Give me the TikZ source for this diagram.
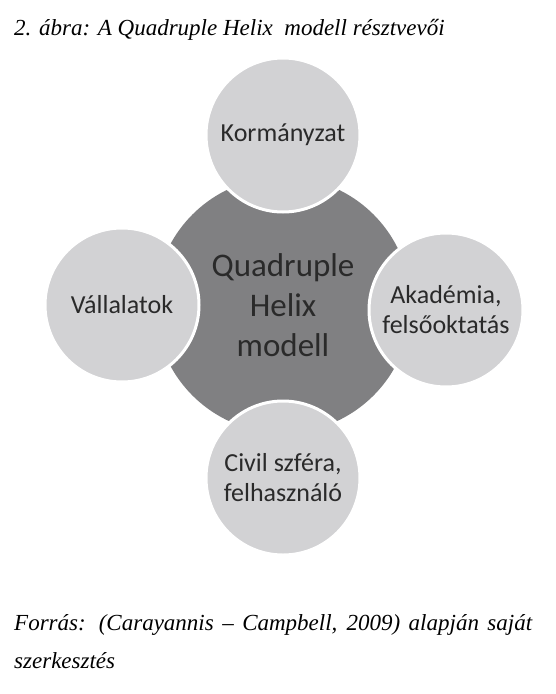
\documentclass[tikz,border=0pt]{standalone}
\usepackage{fontspec}
\setmainfont{Liberation Serif}
\setsansfont{Carlito}
\definecolor{coregray}{HTML}{808082}
\definecolor{actorgray}{HTML}{D2D2D4}
\definecolor{inkgray}{HTML}{2A2A2A}
\tikzset{
  core/.style={circle, fill=coregray, minimum size=256pt, inner sep=0pt, align=center,
    text=inkgray, font=\sffamily\fontsize{33}{40}\selectfont},
  actor/.style={circle, fill=actorgray, draw=white, line width=3pt, minimum size=154pt,
    inner sep=0pt, align=center, text=inkgray, font=\sffamily\fontsize{26}{30}\selectfont},
  caption/.style={anchor=west, inner sep=0pt, font=\itshape\fontsize{23}{38}\selectfont}
}
\begin{document}
\begin{tikzpicture}[x=1pt, y=-1pt]
\useasboundingbox (0,0) rectangle (555,694);
\node[caption] (title) at (14,30) {2. ábra: A Quadruple Helix\ \ modell résztvevői};
\node[core] (helix) at (283,305) {Quadruple\\Helix\\modell};
\node[actor] (korm) at (283,135) {Kormányzat};
\node[actor] (vall) at (122,305) {Vállalatok};
\node[actor] (akad) at (446,310) {Akadémia,\\felsőoktatás};
\node[actor] (civil) at (283,478) {Civil szféra,\\felhasználó};
\node[caption, anchor=north west, text width=518pt, align=justify] (source) at (14,614)
  {Forrás: (Carayannis -- Campbell, 2009) alapján saját szerkesztés};
\end{tikzpicture}
\end{document}
